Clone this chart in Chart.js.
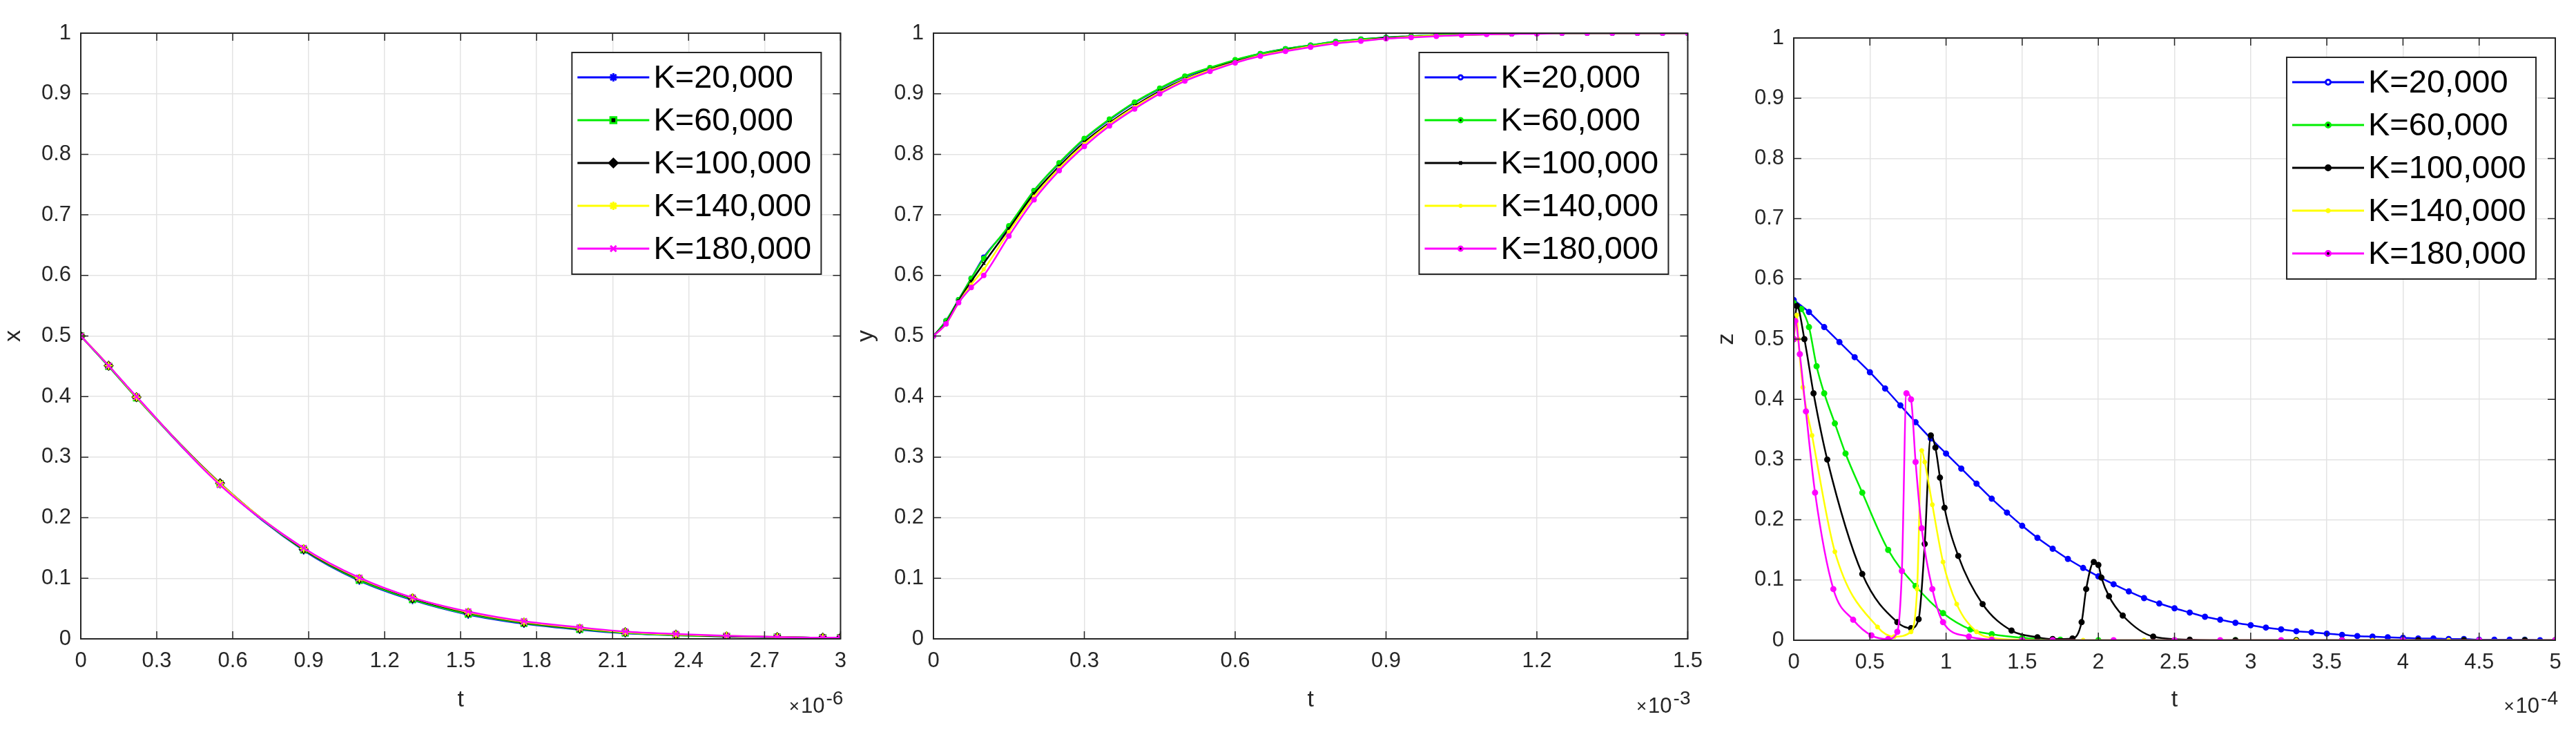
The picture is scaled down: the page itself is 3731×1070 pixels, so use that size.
<!DOCTYPE html>
<html>
<head>
<meta charset="utf-8">
<script src="https://cdn.jsdelivr.net/npm/chart.js@4"></script>
<style>
  body { margin: 0; background: #fff; width: 3731px; height: 1070px; overflow: hidden; }
  canvas { position: absolute; top: 0; }
</style>
</head>
<body>
<canvas id="cx" width="1240" height="1070" style="left:0px"></canvas>
<canvas id="cy" width="1240" height="1070" style="left:1240px"></canvas>
<canvas id="cz" width="1251" height="1070" style="left:2480px"></canvas>
<script>
// series labels and colours
const seriesLabels = ['K=20,000', 'K=60,000', 'K=100,000', 'K=140,000', 'K=180,000'];
const seriesColors = ['#0000ff', '#00ee00', '#000000', '#ffff00', '#ff00ff'];

// panel 1: x(t), t in units of 1e-6
const tX = [0, 0.11, 0.22, 0.55, 0.88, 1.1, 1.31, 1.53, 1.75, 1.97, 2.15, 2.35, 2.55, 2.75, 2.93, 3.0];
const xK20  = [0.5, 0.45, 0.398, 0.255, 0.146, 0.096, 0.064, 0.04, 0.025, 0.015, 0.009, 0.006, 0.004, 0.003, 0.002, 0.002];
const xK60  = [0.5, 0.45, 0.398, 0.256, 0.147, 0.097, 0.065, 0.041, 0.026, 0.016, 0.01, 0.006, 0.004, 0.003, 0.002, 0.002];
const xK100 = [0.5, 0.451, 0.399, 0.257, 0.148, 0.099, 0.067, 0.043, 0.027, 0.017, 0.011, 0.007, 0.004, 0.003, 0.002, 0.002];
const xK140 = [0.5, 0.451, 0.399, 0.256, 0.149, 0.1, 0.068, 0.044, 0.028, 0.018, 0.011, 0.007, 0.005, 0.003, 0.002, 0.002];
const xK180 = [0.5, 0.451, 0.4, 0.254, 0.15, 0.101, 0.068, 0.045, 0.029, 0.019, 0.012, 0.008, 0.005, 0.003, 0.002, 0.002];

// panel 2: y(t), t in units of 1e-3
const tY = [0, 0.025, 0.05, 0.075, 0.1, 0.15, 0.2, 0.25, 0.3, 0.35, 0.4, 0.45, 0.5, 0.55, 0.6, 0.65, 0.7, 0.75, 0.8, 0.85, 0.9, 0.95, 1.0, 1.05, 1.1, 1.15, 1.2, 1.25, 1.3, 1.35, 1.4, 1.45, 1.5];
const yK20  = [0.5, 0.525, 0.56, 0.595, 0.63, 0.68, 0.74, 0.785, 0.825, 0.857, 0.885, 0.908, 0.928, 0.942, 0.955, 0.966, 0.974, 0.98, 0.986, 0.99, 0.993, 0.995, 0.997, 0.998, 0.999, 0.999, 1, 1, 1, 1, 1, 1, 1];
const yK60  = [0.5, 0.525, 0.56, 0.595, 0.628, 0.682, 0.74, 0.786, 0.826, 0.858, 0.886, 0.909, 0.929, 0.943, 0.956, 0.966, 0.974, 0.98, 0.986, 0.99, 0.993, 0.995, 0.997, 0.998, 0.999, 0.999, 1, 1, 1, 1, 1, 1, 1];
const yK100 = [0.5, 0.522, 0.558, 0.59, 0.62, 0.677, 0.735, 0.78, 0.82, 0.852, 0.88, 0.904, 0.924, 0.94, 0.953, 0.963, 0.972, 0.978, 0.984, 0.988, 0.992, 0.994, 0.996, 0.997, 0.998, 0.999, 1, 1, 1, 1, 1, 1, 1];
const yK140 = [0.5, 0.52, 0.555, 0.585, 0.61, 0.672, 0.73, 0.777, 0.817, 0.85, 0.878, 0.902, 0.923, 0.939, 0.952, 0.963, 0.971, 0.978, 0.984, 0.988, 0.991, 0.994, 0.996, 0.997, 0.998, 0.999, 1, 1, 1, 1, 1, 1, 1];
const yK180 = [0.5, 0.52, 0.555, 0.58, 0.6, 0.665, 0.725, 0.773, 0.813, 0.847, 0.875, 0.9, 0.921, 0.937, 0.951, 0.962, 0.97, 0.977, 0.983, 0.987, 0.991, 0.993, 0.995, 0.997, 0.998, 0.999, 0.999, 1, 1, 1, 1, 1, 1];

// panel 3: z(t), t in units of 1e-4
const tZ20 = [0, 0.1, 0.2, 0.3, 0.4, 0.5, 0.6, 0.7, 0.8, 0.9, 1.0, 1.1, 1.2, 1.3, 1.4, 1.5, 1.6, 1.7, 1.8, 1.9, 2.0, 2.1, 2.2, 2.3, 2.4, 2.5, 2.6, 2.7, 2.8, 2.9, 3.0, 3.1, 3.2, 3.3, 3.4, 3.5, 3.6, 3.7, 3.8, 3.9, 4.0, 4.1, 4.2, 4.3, 4.4, 4.5, 4.6, 4.7, 4.8, 4.9, 5.0];
const zK20 = [0.565, 0.545, 0.52, 0.495, 0.47, 0.445, 0.418, 0.39, 0.362, 0.335, 0.31, 0.285, 0.26, 0.235, 0.212, 0.19, 0.17, 0.152, 0.135, 0.12, 0.106, 0.093, 0.081, 0.07, 0.061, 0.053, 0.046, 0.039, 0.034, 0.029, 0.025, 0.021, 0.018, 0.015, 0.013, 0.011, 0.009, 0.007, 0.006, 0.005, 0.004, 0.003, 0.003, 0.002, 0.002, 0.001, 0.001, 0.001, 0.001, 0, 0];
const tZ60 = [0, 0.05, 0.1, 0.15, 0.2, 0.27, 0.34, 0.45, 0.62, 0.8, 0.98, 1.16, 1.3, 1.5, 1.75, 2.0, 2.5, 2.9, 3.3, 3.6, 4.0, 4.4, 4.8, 5.0];
const zK60 = [0.56, 0.55, 0.52, 0.455, 0.41, 0.36, 0.31, 0.245, 0.15, 0.09, 0.045, 0.018, 0.01, 0.004, 0.001, 0, 0, 0, 0, 0, 0, 0, 0, 0];
const tZ100 = [0, 0.02, 0.07, 0.13, 0.22, 0.45, 0.68, 0.77, 0.82, 0.86, 0.9, 0.93, 0.96, 0.99, 1.08, 1.24, 1.43, 1.6, 1.7, 1.83, 1.89, 1.92, 1.97, 2.0, 2.02, 2.07, 2.16, 2.36, 2.6, 2.9, 3.3, 3.6, 4.1, 4.4, 4.8, 5.0];
const zK100 = [0.5, 0.555, 0.5, 0.41, 0.3, 0.11, 0.03, 0.02, 0.035, 0.16, 0.34, 0.32, 0.27, 0.22, 0.14, 0.06, 0.016, 0.005, 0.002, 0.003, 0.03, 0.085, 0.13, 0.125, 0.104, 0.073, 0.041, 0.006, 0.001, 0, 0, 0, 0, 0, 0, 0];
const tZ140 = [0, 0.02, 0.03, 0.06, 0.12, 0.27, 0.55, 0.66, 0.77, 0.81, 0.84, 0.86, 0.91, 0.98, 1.07, 1.2, 1.3, 1.5, 1.9, 2.3, 2.8, 3.3, 3.8, 4.3, 5.0];
const zK140 = [0.5, 0.54, 0.5, 0.42, 0.34, 0.147, 0.022, 0.006, 0.014, 0.085, 0.315, 0.296, 0.225, 0.13, 0.06, 0.014, 0.004, 0.001, 0, 0, 0, 0, 0, 0, 0];
const tZ180 = [0, 0.01, 0.04, 0.08, 0.14, 0.26, 0.39, 0.51, 0.62, 0.68, 0.71, 0.74, 0.77, 0.8, 0.84, 0.91, 0.98, 1.15, 1.3, 1.5, 1.7, 2.1, 2.5, 2.8, 3.2, 3.6, 4.0, 4.5, 5.0];
const zK180 = [0.5, 0.53, 0.475, 0.38, 0.245, 0.085, 0.034, 0.008, 0.002, 0.014, 0.115, 0.41, 0.4, 0.296, 0.186, 0.085, 0.03, 0.006, 0.001, 0, 0, 0, 0, 0, 0, 0, 0, 0, 0];

const yTicks = [0, 0.1, 0.2, 0.3, 0.4, 0.5, 0.6, 0.7, 0.8, 0.9, 1];
const FONT = "'Liberation Sans', Arial, sans-serif";
const TXT = '#262626';

function pts(t, v) { return t.map((tt, i) => ({ x: tt, y: v[i] })); }

function framePlugin(yName, expo) {
  return {
    id: 'frame',
    afterDraw(chart) {
      const c = chart.ctx, a = chart.chartArea;
      c.save();
      c.strokeStyle = TXT; c.lineWidth = 2;
      c.strokeRect(a.left, a.top, a.right - a.left, a.bottom - a.top);
      // inward ticks
      const xs = chart.scales.x, ys = chart.scales.y;
      c.lineWidth = 1.5;
      xs.ticks.forEach(t => { const p = xs.getPixelForValue(t.value);
        c.beginPath(); c.moveTo(p, a.bottom); c.lineTo(p, a.bottom - 11); c.moveTo(p, a.top); c.lineTo(p, a.top + 11); c.stroke(); });
      ys.ticks.forEach(t => { const p = ys.getPixelForValue(t.value);
        c.beginPath(); c.moveTo(a.left, p); c.lineTo(a.left + 11, p); c.moveTo(a.right, p); c.lineTo(a.right - 11, p); c.stroke(); });
      // axis titles
      c.fillStyle = TXT;
      c.font = '34px ' + FONT;
      c.textAlign = 'center'; c.textBaseline = 'middle';
      c.fillText('t', (a.left + a.right) / 2, 1014);
      c.save(); c.translate(a.left - 97, (a.top + a.bottom) / 2); c.rotate(-Math.PI / 2);
      c.fillText(yName, 0, 0); c.restore();
      // exponent
      c.textAlign = 'right'; c.textBaseline = 'alphabetic';
      c.font = '28px ' + FONT;
      c.fillText(expo, a.right + 4, 1020);
      const ew = c.measureText(expo).width;
      c.font = '31px ' + FONT;
      c.fillText('10', a.right - ew + 2, 1032);
      const tw = c.measureText('10').width;
      c.font = '26px ' + FONT;
      c.fillText('\u00d7', a.right - ew - tw, 1031);
      // legend
      const bw = 361, bh = 321, bx = a.right - 28 - bw, by = a.top + 28;
      c.fillStyle = '#fff'; c.fillRect(bx, by, bw, bh);
      c.strokeStyle = TXT; c.lineWidth = 2; c.strokeRect(bx, by, bw, bh);
      c.font = '47px ' + FONT; c.textAlign = 'left'; c.textBaseline = 'middle';
      chart.data.datasets.forEach((ds, i) => {
        const ly = by + 36 + i * 62;
        c.strokeStyle = ds.borderColor; c.lineWidth = 3;
        c.beginPath(); c.moveTo(bx + 8, ly); c.lineTo(bx + 112, ly); c.stroke();
        Chart.helpers.drawPoint(c, { pointStyle: ds.pointStyle, radius: ds.pointRadius, borderWidth: 2 }, bx + 60, ly);
        c.fillStyle = '#000';
        c.fillText(ds.label, bx + 118, ly + 2);
      });
      c.restore();
    }
  };
}

function makeChart(id, yName, expo, xMax, xStep, series, styles, radius, pad) {
  const datasets = series.map((s, i) => ({
    label: seriesLabels[i], data: s, order: series.length - i,
    borderColor: seriesColors[i], backgroundColor: seriesColors[i],
    pointBorderColor: seriesColors[i], pointBackgroundColor: styles[i] === 'rectRot' || styles[i] === 'rect' ? 'rgba(0,0,0,0)' : seriesColors[i],
    pointStyle: styles[i], pointRadius: radius, pointBorderWidth: 2,
    borderWidth: 2.5, tension: 0.35, cubicInterpolationMode: 'monotone'
  }));
  return new Chart(document.getElementById(id), {
    type: 'line',
    data: { datasets },
    plugins: [framePlugin(yName, expo)],
    options: {
      responsive: false, animation: false,
      layout: { padding: { left: 0, right: pad.right, top: pad.top, bottom: 0 } },
      plugins: { legend: { display: false }, tooltip: { enabled: false } },
      scales: {
        x: {
          type: 'linear', min: 0, max: xMax,
          afterFit: s => { s.height = 1070 - pad.top - pad.plotH; },
          afterBuildTicks: s => { const t = []; for (let i = 0; i * xStep <= xMax + 1e-9; i++) t.push({ value: +(i * xStep).toFixed(2) }); s.ticks = t; },
          grid: { color: '#e3e3e3', lineWidth: 1.5, drawTicks: false },
          border: { display: false },
          ticks: { padding: 14, color: TXT, font: { family: FONT, size: 31 }, maxRotation: 0,
                   callback: v => String(+v.toFixed(2)) }
        },
        y: {
          min: 0, max: 1,
          afterFit: s => { s.width = pad.left; },
          afterBuildTicks: s => { s.ticks = yTicks.map(v => ({ value: v })); },
          grid: { color: '#e3e3e3', lineWidth: 1.5, drawTicks: false },
          border: { display: false },
          ticks: { padding: 14, color: TXT, font: { family: FONT, size: 31 }, callback: v => String(+v.toFixed(1)) }
        }
      }
    }
  });
}

makeChart('cx', 'x', '-6', 3, 0.3,
  [pts(tX, xK20), pts(tX, xK60), pts(tX, xK100), pts(tX, xK140), pts(tX, xK180)],
  ['star', 'rect', 'rectRot', 'star', 'crossRot'], 6,
  { left: 117, right: 15, top: 48, plotH: 877 });

makeChart('cy', 'y', '-3', 1.5, 0.3,
  [pts(tY, yK20), pts(tY, yK60), pts(tY, yK100), pts(tY, yK140), pts(tY, yK180)],
  ['circle', 'circle', 'crossRot', 'star', 'circle'], 3,
  { left: 112, right: 20, top: 48, plotH: 877 });

makeChart('cz', 'z', '-4', 5, 0.5,
  [pts(tZ20, zK20), pts(tZ60, zK60), pts(tZ100, zK100), pts(tZ140, zK140), pts(tZ180, zK180)],
  ['circle', 'circle', 'circle', 'star', 'circle'], 3.5,
  { left: 118, right: 30, top: 55, plotH: 872 });
</script>
</body>
</html>
